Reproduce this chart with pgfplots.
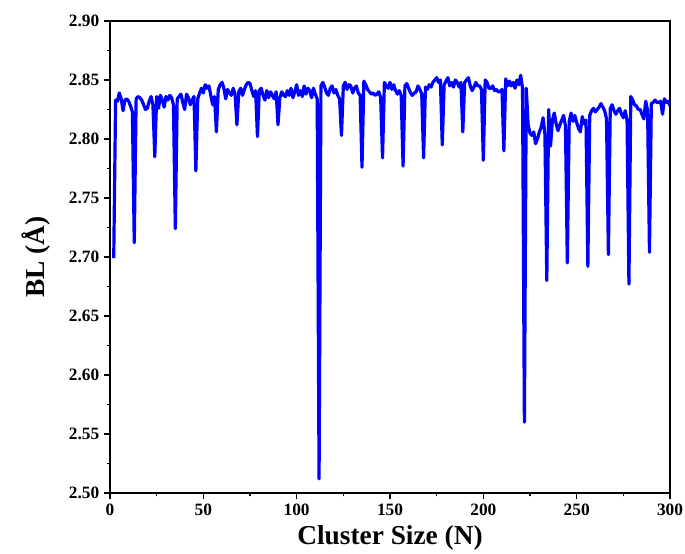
\documentclass[border=0pt]{standalone}
\usepackage{fontspec}
\setmainfont{Liberation Serif}
\usepackage{pgfplots}
\pgfplotsset{compat=1.18}
\definecolor{lineblue}{RGB}{0,0,255}
\begin{document}
\begin{tikzpicture}
\useasboundingbox (-82.5pt,-45pt) rectangle (431.25pt,369.75pt);
\begin{axis}[
  scale only axis,
  width=420pt, height=354pt,
  xmin=0, xmax=300, ymin=2.50, ymax=2.90,
  xtick={0,50,...,300},
  ytick={2.50,2.55,...,2.91},
  minor x tick num=1, minor y tick num=1,
  tick pos=left,
  tick align=outside,
  major tick length=4.5pt, minor tick length=2.5pt,
  every tick/.style={black, line width=1.2pt},
  axis line style={line width=1.5pt, black},
  /pgf/number format/assume math mode=true,
  x tick label style={font=\fontsize{13}{13}\selectfont\bfseries, /pgf/number format/fixed},
  y tick label style={font=\fontsize{13}{13}\selectfont\bfseries, /pgf/number format/fixed, /pgf/number format/fixed zerofill, /pgf/number format/precision=2},
  xlabel={Cluster Size (N)},
  ylabel={BL (Å)},
  label style={font=\fontsize{20.5}{20.5}\selectfont\bfseries},
  xlabel style={yshift=-1pt},
  ylabel style={yshift=7pt},
]
\addplot[lineblue, line width=2.4pt, mark=none, line join=round] coordinates {
(2,2.699) (3,2.833) (4,2.832) (5,2.839) (6,2.834) (7,2.824) (8,2.833) (9,2.834) (10,2.832) (11,2.828) (12,2.823)
(13,2.712) (14,2.834) (15,2.836) (16,2.835) (17,2.833) (18,2.829) (19,2.825) (20,2.826) (21,2.832) (22,2.836) (23,2.829)
(24,2.785) (25,2.836) (26,2.826) (27,2.837) (28,2.833) (29,2.827) (30,2.836) (31,2.833) (32,2.837) (33,2.835) (34,2.829)
(35,2.724) (36,2.834) (37,2.836) (38,2.838) (39,2.831) (40,2.825) (41,2.838) (42,2.835) (43,2.829) (44,2.833) (45,2.836)
(46,2.773) (47,2.834) (48,2.839) (49,2.843) (50,2.839) (51,2.846) (52,2.843) (53,2.845) (54,2.837) (55,2.829) (56,2.836)
(57,2.806) (58,2.842) (59,2.846) (60,2.848) (61,2.843) (62,2.834) (63,2.842) (64,2.839) (65,2.837) (66,2.843) (67,2.838)
(68,2.812) (69,2.840) (70,2.843) (71,2.837) (72,2.842) (73,2.846) (74,2.848) (75,2.847) (76,2.841) (77,2.836) (78,2.841)
(79,2.802) (80,2.841) (81,2.843) (82,2.837) (83,2.833) (84,2.841) (85,2.835) (86,2.840) (87,2.837) (88,2.834) (89,2.840)
(90,2.812) (91,2.835) (92,2.840) (93,2.837) (94,2.836) (95,2.841) (96,2.837) (97,2.843) (98,2.835) (99,2.840) (100,2.846)
(101,2.837) (102,2.841) (103,2.836) (104,2.845) (105,2.838) (106,2.843) (107,2.841) (108,2.835) (109,2.843) (110,2.838) (111,2.834)
(112,2.512) (113,2.845) (114,2.848) (115,2.844) (116,2.839) (117,2.837) (118,2.843) (119,2.845) (120,2.839) (121,2.842) (122,2.837) (123,2.834)
(124,2.803) (125,2.845) (126,2.848) (127,2.842) (128,2.846) (129,2.845) (130,2.839) (131,2.843) (132,2.845) (133,2.839) (134,2.837)
(135,2.776) (136,2.849) (137,2.846) (138,2.842) (139,2.840) (140,2.838) (141,2.839) (142,2.837) (143,2.838) (144,2.840) (145,2.835)
(146,2.784) (147,2.848) (148,2.845) (149,2.843) (150,2.848) (151,2.842) (152,2.846) (153,2.841) (154,2.838) (155,2.841) (156,2.837)
(157,2.777) (158,2.845) (159,2.847) (160,2.843) (161,2.839) (162,2.837) (163,2.839) (164,2.840) (165,2.845) (166,2.842) (167,2.838)
(168,2.784) (169,2.844) (170,2.842) (171,2.846) (172,2.844) (173,2.848) (174,2.850) (175,2.852) (176,2.848) (177,2.850)
(178,2.795) (179,2.846) (180,2.849) (181,2.852) (182,2.845) (183,2.848) (184,2.844) (185,2.850) (186,2.848) (187,2.844) (188,2.848)
(189,2.806) (190,2.848) (191,2.850) (192,2.852) (193,2.845) (194,2.841) (195,2.844) (196,2.848) (197,2.845) (198,2.845) (199,2.842)
(200,2.782) (201,2.850) (202,2.848) (203,2.843) (204,2.843) (205,2.845) (206,2.841) (207,2.842) (208,2.840) (209,2.840) (210,2.842)
(211,2.790) (212,2.851) (213,2.845) (214,2.849) (215,2.845) (216,2.848) (217,2.843) (218,2.850) (219,2.846) (220,2.854) (221,2.843)
(222,2.560) (223,2.843) (224,2.812) (225,2.805) (226,2.803) (227,2.806) (228,2.796) (229,2.800) (230,2.806) (231,2.810) (232,2.818) (233,2.804)
(234,2.680) (235,2.825) (236,2.794) (237,2.816) (238,2.822) (239,2.813) (240,2.807) (241,2.812) (242,2.816) (243,2.820) (244,2.811)
(245,2.695) (246,2.815) (247,2.822) (248,2.815) (249,2.820) (250,2.814) (251,2.809) (252,2.806) (253,2.819) (254,2.813) (255,2.816)
(256,2.692) (257,2.820) (258,2.824) (259,2.826) (260,2.823) (261,2.825) (262,2.827) (263,2.830) (264,2.827) (265,2.824) (266,2.817)
(267,2.702) (268,2.826) (269,2.829) (270,2.824) (271,2.821) (272,2.824) (273,2.826) (274,2.821) (275,2.818) (276,2.824) (277,2.816)
(278,2.677) (279,2.836) (280,2.833) (281,2.829) (282,2.828) (283,2.825) (284,2.825) (285,2.821) (286,2.817) (287,2.832) (288,2.824)
(289,2.704) (290,2.830) (291,2.831) (292,2.833) (293,2.831) (294,2.831) (295,2.832) (296,2.821) (297,2.834) (298,2.831) (299,2.832) (300,2.828)
};
\end{axis}
\end{tikzpicture}
\end{document}
